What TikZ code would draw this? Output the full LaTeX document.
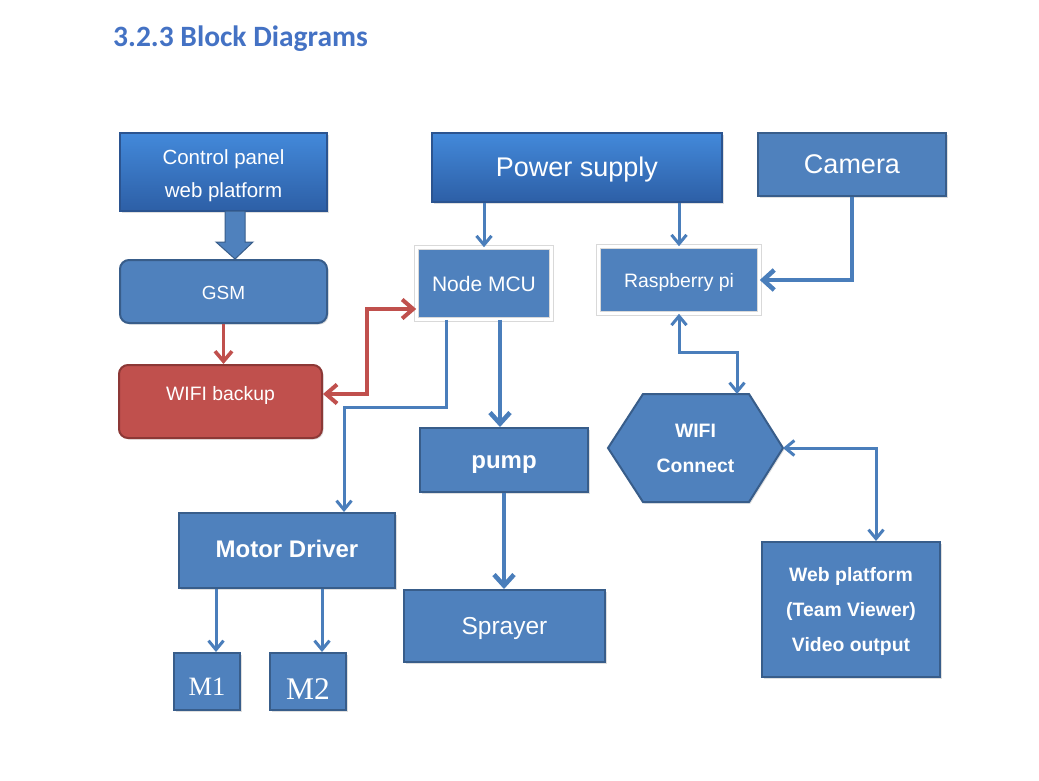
\documentclass[tikz,border=0pt]{standalone}
\usepackage{fontspec}
\setmainfont{Liberation Sans}
\newfontfamily\titlefont{Carlito}
\newfontfamily\mfont{Liberation Serif}
\usetikzlibrary{arrows.meta,shadows,calc}
\definecolor{boxblue}{HTML}{4F81BD}
\definecolor{boxedge}{HTML}{385D8A}
\definecolor{gradtop}{HTML}{4389DA}
\definecolor{gradbot}{HTML}{2D5FA6}
\definecolor{gradedge}{HTML}{2B5490}
\definecolor{redfill}{HTML}{C0504D}
\definecolor{rededge}{HTML}{8C3836}
\definecolor{titleblue}{HTML}{4472C4}
\definecolor{lineblue}{HTML}{4A7EBB}
\tikzset{
  x=1pt, y=-1pt,
  every node/.style={text=white, font=\fontsize{20}{24}\selectfont, inner sep=0pt},
  txt/.style={align=center},
  shad/.style={drop shadow={opacity=0.25, shadow xshift=1.5pt, shadow yshift=-1.5pt}},
  bbox/.style={rectangle, fill=boxblue, draw=boxedge, line width=2pt, shad},
  gbox/.style={rectangle, top color=gradtop, bottom color=gradbot, draw=gradedge, line width=1.6pt, shad},
  rbox/.style={bbox, rounded corners=9pt},
  wbox/.style={rectangle, fill=boxblue, draw=black!15, double=white, double distance=3.5pt, line width=0.6pt, drop shadow={opacity=0.2, shadow xshift=1.5pt, shadow yshift=-1.5pt}},
  arr/.style={draw=lineblue, line width=3pt, -{Straight Barb[length=9pt,width=15pt,line width=3pt]}},
  barr/.style={draw=lineblue, line width=3pt, {Straight Barb[length=9pt,width=15pt,line width=3pt]}-{Straight Barb[length=9pt,width=15pt,line width=3pt]}},
  tarr/.style={draw=lineblue, line width=4.6pt, -{Straight Barb[length=11pt,width=20pt,line width=4.6pt]}},
  rarr/.style={draw=redfill, line width=4pt, {Straight Barb[length=11pt,width=19pt,line width=4pt]}-{Straight Barb[length=11pt,width=19pt,line width=4pt]}},
  rarrone/.style={draw=redfill, line width=3.6pt, -{Straight Barb[length=10pt,width=17pt,line width=3.6pt]}},
}
\begin{document}
\begin{tikzpicture}
\useasboundingbox (0,0) rectangle (1039,780);
\fill[white] (0,0) rectangle (1039,780);

% title
\node[anchor=base west, text=titleblue, font=\titlefont\bfseries\fontsize{29.5}{34}\selectfont] (title) at (113,46) {3.2.3 Block Diagrams};

% boxes
\node[gbox, minimum width=207pt, minimum height=78pt] (cp) at (223.5,172) {};
\node[txt, font=\fontsize{20.5}{24}\selectfont] (cpt) at (223.5,176) {Control panel\\[9pt]web platform};
\node[rbox, minimum width=207pt, minimum height=63pt] (gsm) at (223.5,291.5) {};
\node[font=\fontsize{19}{23}\selectfont] (gsmt) at (223.5,292.5) {GSM};
\node[rbox, fill=redfill, draw=rededge, minimum width=203pt, minimum height=73pt] (wb) at (220.5,401.5) {};
\node[font=\fontsize{19.4}{23}\selectfont] (wbt) at (220.5,395) {WIFI backup};
\node[gbox, minimum width=290pt, minimum height=69pt] (ps) at (577,167.5) {};
\node[font=\fontsize{27}{32}\selectfont] (pst) at (577,169.5) {Power supply};
\node[bbox, minimum width=188pt, minimum height=63pt] (cam) at (852,164.5) {};
\node[font=\fontsize{27}{32}\selectfont] (camt) at (852,164.5) {Camera};
\node[wbox, minimum width=135pt, minimum height=72pt] (nmcu) at (484,283.5) {};
\node[font=\fontsize{21}{25}\selectfont] (nmcut) at (484,284) {Node MCU};
\node[wbox, minimum width=161pt, minimum height=67pt] (rpi) at (679,280) {};
\node[font=\fontsize{19.4}{23}\selectfont] (rpit) at (679,282) {Raspberry pi};
\node[bbox, minimum width=168pt, minimum height=64pt] (pump) at (504,460) {};
\node[font=\bfseries\fontsize{24}{28}\selectfont] (pumpt) at (504,464.5) {pump};
\node[bbox, minimum width=201pt, minimum height=72pt] (spr) at (504.5,626) {};
\node[font=\fontsize{24.5}{28}\selectfont] (sprt) at (504.5,628) {Sprayer};
\node[bbox, minimum width=216pt, minimum height=75pt] (md) at (287,550.5) {};
\node[font=\bfseries\fontsize{24}{28}\selectfont] (mdt) at (287,548.5) {Motor Driver};
\node[bbox, minimum width=66pt, minimum height=57pt] (m1) at (207,681.5) {};
\node[font=\mfont\fontsize{26.5}{30}\selectfont] (m1t) at (207,686.5) {M1};
\node[bbox, minimum width=76pt, minimum height=57pt] (m2) at (308,681.5) {};
\node[font=\mfont\fontsize{31.5}{34}\selectfont] (m2t) at (308,689.5) {M2};
\node[bbox, minimum width=178pt, minimum height=135pt] (web) at (851,609.5) {};
\node[txt, font=\bfseries\fontsize{19.4}{35}\selectfont] (webt) at (851,611.5) {Web platform\\(Team Viewer)\\Video output};

% hexagon
\filldraw[fill=boxblue, draw=boxedge, line width=2pt, shad] (608,448) -- (643,394) -- (749,394) -- (783,448) -- (749,502) -- (643,502) -- cycle;
\node[txt, font=\bfseries\fontsize{19.4}{35}\selectfont] (wifi) at (695.5,448) {WIFI\\Connect};
\coordinate (wtop) at (737,394);
\coordinate (wright) at (783,448);

% block arrow control panel -> GSM
\filldraw[fill=boxblue, draw=boxedge, line width=1pt] (225,211) -- (245,211) -- (245,242) -- (253,242) -- (235,259) -- (216,242) -- (225,242) -- cycle;

% connectors
\draw[rarrone] (gsm.south) -- (gsm.south |- wb.north);
\draw[rarr] ([yshift=-25.5pt]nmcu.west) -- ++(-49,0) |- ([yshift=7.5pt]wb.east);
\draw[arr] (nmcu.north |- ps.south) -- (nmcu.north);
\draw[arr] (rpi.north |- ps.south) -- (rpi.north);
\draw[tarr] (cam.south) |- (rpi.east);
\draw[arr] ([xshift=-38pt]nmcu.south) -- ++(0,88) -| ([xshift=57pt]md.north);
\draw[tarr] ([xshift=16pt]nmcu.south) -- ([xshift=16pt]nmcu.south |- pump.north);
\draw[tarr] (pump.south) -- (pump.south |- spr.north);
\draw[arr] ([xshift=9pt]m1.north |- md.south) -- ([xshift=9pt]m1.north);
\draw[arr] ([xshift=14pt]m2.north |- md.south) -- ([xshift=14pt]m2.north);
\draw[barr] (rpi.south) -- ++(0,39) -| (wtop);
\draw[barr] (wright) -| ([xshift=25pt]web.north);
\end{tikzpicture}
\end{document}
